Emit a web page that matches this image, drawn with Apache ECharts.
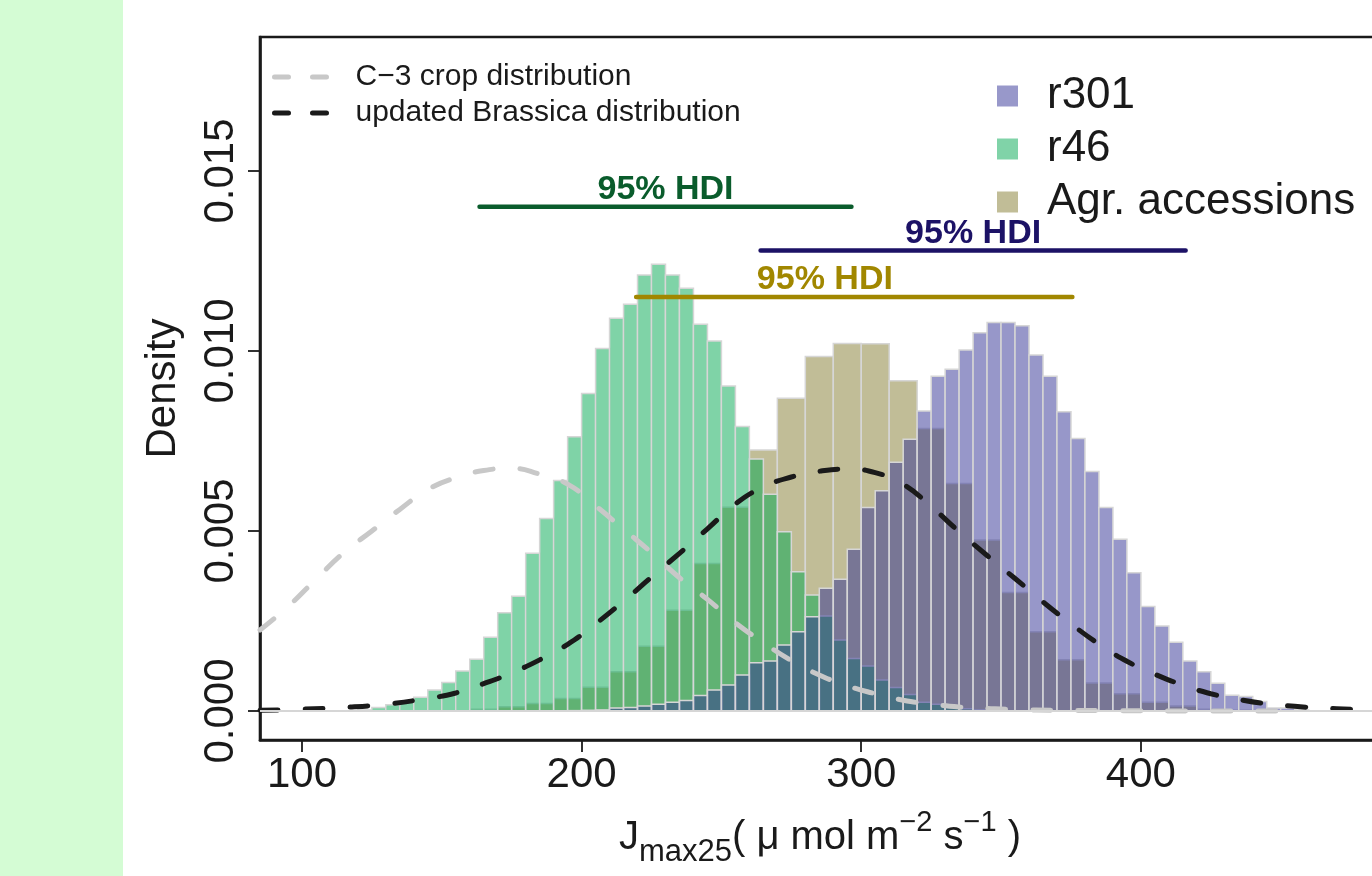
<!DOCTYPE html>
<html>
<head>
<meta charset="utf-8">
<script src="https://cdn.jsdelivr.net/npm/echarts@6/dist/echarts.min.js"></script>
<style>
html, body { margin: 0; padding: 0; background: #fff; }
#main { width: 1372px; height: 876px; }
</style>
</head>
<body>
<div id="main"></div>
<script>
// histograms: first bin start, bin width, densities per bin
var r46Start = 120, r46Bin = 5;
var r46Density = [0.00003, 0.0001, 0.00017, 0.00026, 0.00038, 0.00058, 0.00079, 0.00111, 0.00144, 0.00205,
    0.00273, 0.00319, 0.00438, 0.00535, 0.0064, 0.00762, 0.00882, 0.01007, 0.01091, 0.0113,
    0.01211, 0.01241, 0.01211, 0.01174, 0.01074, 0.01028, 0.00903, 0.0079, 0.0070, 0.00602,
    0.00498, 0.00387, 0.00322, 0.00264, 0.00197, 0.00146, 0.00125, 0.00086, 0.00065, 0.00046,
    0.00024, 0.00019, 0.00013, 0.00006, 0.00003];

var r301Start = 195, r301Bin = 5;
var r301Density = [0.00001, 0.00002, 0.00003, 0.00008, 0.0001, 0.00014, 0.00019, 0.00024, 0.00029, 0.00043,
    0.00058, 0.00072, 0.001, 0.00134, 0.00139, 0.00183, 0.0022, 0.00262, 0.00341, 0.00366,
    0.00449, 0.00565, 0.00612, 0.00691, 0.00755, 0.00833, 0.0093, 0.00949, 0.01003, 0.01051,
    0.01079, 0.01079, 0.0107, 0.00989, 0.0093, 0.00831, 0.00757, 0.00665, 0.00565, 0.00477,
    0.00384, 0.0029, 0.00236, 0.00191, 0.00139, 0.00109, 0.00077, 0.00044, 0.0004, 0.00026,
    0.00008, 0.00008, 0.00003];

var agrStart = 160, agrBin = 10;
var agrDensity = [0.00005, 0.00012, 0.00021, 0.00035, 0.00066, 0.00109, 0.0018, 0.0028, 0.0041, 0.00566,
    0.00725, 0.00869, 0.00985, 0.01021, 0.0102, 0.00917, 0.00785, 0.00632, 0.00475, 0.00329,
    0.0022, 0.00142, 0.00078, 0.00048, 0.00024, 0.00014, 0.00005, 0.00002];

// prior curves
var c3X = [85, 95, 105, 115, 125, 135, 145, 155, 165, 175, 185, 195, 205, 215, 225, 235, 245, 255, 265,
    275, 285, 295, 305, 315, 325, 335, 345, 355, 370, 390, 420, 450];
var c3Y = [0.00225, 0.0029, 0.00366, 0.0044, 0.005, 0.0056, 0.00615, 0.00648, 0.00668, 0.00674, 0.00658,
    0.0063, 0.0057, 0.00505, 0.0044, 0.0037, 0.0031, 0.00245, 0.0019, 0.0014, 0.001, 0.0007, 0.00048,
    0.0003, 0.00019, 0.00011, 0.00007, 0.00004, 0.00002, 0.00001, 0, 0];

var brX = [85, 100, 115, 130, 145, 155, 165, 175, 185, 195, 205, 215, 225, 235, 245, 255, 265, 275, 285,
    295, 305, 315, 325, 335, 345, 355, 365, 375, 385, 395, 405, 415, 425, 435, 445, 455, 465, 475, 485];
var brY = [0.00002, 0.00005, 0.0001, 0.00019, 0.00035, 0.0005, 0.00076, 0.00106, 0.00142, 0.00185,
    0.00242, 0.00305, 0.00372, 0.00438, 0.00506, 0.00575, 0.00622, 0.0065, 0.00666, 0.00672, 0.00662,
    0.0063, 0.00568, 0.00498, 0.00432, 0.00368, 0.00303, 0.00242, 0.00186, 0.00138, 0.00102, 0.00072,
    0.00048, 0.00032, 0.0002, 0.00013, 0.00008, 0.00005, 0.00003];

// 95% HDI bars: r46, r301, Agr
var hdiLow = [163.5, 264, 219.5];
var hdiHigh = [296.5, 416, 375.5];
var hdiHeight = [0.01401, 0.01279, 0.0115];
var hdiLabelX = [230, 340, 287];
var hdiColor = ['#0a5c2c', '#1c1266', '#a18700'];

var xTicks = [100, 200, 300, 400, 500];
var yTicks = [0, 0.005, 0.010, 0.015];

var FONT = 'Liberation Sans';
var INK = '#1a1a1a';

function binData(start, width, dens) {
    var out = [];
    for (var i = 0; i < dens.length; i++) {
        out.push([start + i * width, dens[i]]);
    }
    return out;
}

function pairs(xs, ys) {
    var out = [];
    for (var i = 0; i < xs.length; i++) out.push([xs[i], ys[i]]);
    return out;
}

function histItem(fill, binWidth) {
    return function (params, api) {
        var x0 = api.value(0);
        var top = api.coord([x0, api.value(1)]);
        var base = api.coord([x0 + binWidth, 0]);
        return {
            type: 'rect',
            shape: { x: top[0], y: top[1], width: base[0] - top[0], height: base[1] - top[1] },
            style: { fill: fill, stroke: '#d6d6d6', lineWidth: 1.5 }
        };
    };
}

function hdiSeries(i) {
    return {
        name: 'hdi' + i,
        type: 'line',
        symbol: 'circle',
        symbolSize: 0.1,
        showSymbol: true,
        lineStyle: { color: hdiColor[i], width: 4.5, cap: 'round' },
        itemStyle: { color: hdiColor[i] },
        label: { show: false },
        data: [
            [hdiLow[i], hdiHeight[i]],
            {
                value: [hdiLabelX[i], hdiHeight[i]],
                label: {
                    show: true, position: 'top', distance: 0,
                    formatter: '95% HDI', fontFamily: FONT, fontWeight: 'bold',
                    fontSize: 34, color: hdiColor[i]
                }
            },
            [hdiHigh[i], hdiHeight[i]]
        ],
        z: 5,
        silent: true
    };
}

var chart = echarts.init(document.getElementById('main'));

var option = {
    animation: false,
    backgroundColor: '#fff',
    textStyle: { fontFamily: FONT },
    graphic: [{
        type: 'rect', left: 0, top: 0, z: -10,
        shape: { width: 123, height: 876 },
        style: { fill: '#d4fcd4' }
    }],
    grid: {
        left: 260, top: 37, width: 1120, height: 703,
        outerBoundsMode: 'none',
        containLabel: false,
        show: true, borderColor: INK, borderWidth: 2.6, backgroundColor: 'transparent'
    },
    legend: [{
        orient: 'vertical', left: 267, top: 57,
        itemWidth: 56, itemHeight: 14, itemGap: 6,
        selectedMode: false,
        itemStyle: { opacity: 0 },
        lineStyle: { width: 5, type: [14, 24], cap: 'round' },
        textStyle: { fontFamily: FONT, fontSize: 30, lineHeight: 30, color: INK, padding: [0, 0, 0, 20] },
        data: ['C\u22123 crop distribution', 'updated Brassica distribution']
    }, {
        orient: 'vertical', left: 992, top: 68,
        icon: 'rect', itemWidth: 21, itemHeight: 21, itemGap: 7,
        selectedMode: false,
        textStyle: { fontFamily: FONT, fontSize: 44, lineHeight: 46, color: INK, padding: [0, 0, 0, 24] },
        data: [
            { name: 'r301', itemStyle: { color: '#9898ca', borderWidth: 0 } },
            { name: 'r46', itemStyle: { color: '#80d3a8', borderWidth: 0 } },
            { name: 'Agr. accessions', itemStyle: { color: '#c1bd97', borderWidth: 0 } }
        ]
    }],
    xAxis: {
        type: 'value', min: 85, max: 485.5,
        position: 'bottom',
        axisLine: { show: true, onZero: false, lineStyle: { color: INK, width: 2.6 } },
        splitLine: { show: false },
        axisTick: { show: true, inside: false, length: 12, customValues: xTicks, lineStyle: { color: INK, width: 1.8 } },
        axisLabel: { customValues: xTicks, fontSize: 42, color: INK, margin: 14, fontFamily: FONT },
        name: '{a|J}{sub|max25}{a|( \u03bc mol m}{sup|\u22122}{a| s}{sup|\u22121}{a| )}',
        nameLocation: 'middle',
        nameGap: 68,
        nameTextStyle: {
            rich: {
                a: { fontFamily: FONT, fontSize: 40, lineHeight: 60, color: INK, verticalAlign: 'middle' },
                sub: { fontFamily: FONT, fontSize: 31, lineHeight: 48, color: INK, verticalAlign: 'bottom' },
                sup: { fontFamily: FONT, fontSize: 29, lineHeight: 32, color: INK, verticalAlign: 'top' }
            }
        }
    },
    yAxis: {
        type: 'value', min: -0.000806, max: 0.018722,
        axisLine: { show: true, onZero: false, lineStyle: { color: INK, width: 2.6 } },
        splitLine: { show: false },
        axisTick: { show: true, inside: false, length: 12, customValues: yTicks, lineStyle: { color: INK, width: 1.8 } },
        axisLabel: {
            customValues: yTicks, rotate: 90, fontSize: 42, color: INK, margin: 18, fontFamily: FONT,
            formatter: function (v) { return v.toFixed(3); }
        },
        name: 'Density',
        nameLocation: 'middle',
        nameRotate: 90,
        nameGap: 76,
        nameTextStyle: { fontFamily: FONT, fontSize: 42, color: INK }
    },
    series: [{
        name: 'Agr. accessions',
        type: 'custom',
        renderItem: histItem('rgba(131,123,47,0.5)', agrBin),
        encode: { x: 0, y: 1 },
        itemStyle: { color: '#c1bd97' },
        data: binData(agrStart, agrBin, agrDensity),
        markLine: {
            silent: true, symbol: 'none', label: { show: false },
            lineStyle: { color: '#d6d6d6', width: 2, type: 'solid' },
            data: [{ yAxis: 0 }]
        },
        z: 2
    }, {
        name: 'r46',
        type: 'custom',
        renderItem: histItem('rgba(0,167,79,0.5)', r46Bin),
        encode: { x: 0, y: 1 },
        itemStyle: { color: '#80d3a8' },
        data: binData(r46Start, r46Bin, r46Density),
        z: 2
    }, {
        name: 'r301',
        type: 'custom',
        renderItem: histItem('rgba(47,47,147,0.5)', r301Bin),
        encode: { x: 0, y: 1 },
        itemStyle: { color: '#9898ca' },
        data: binData(r301Start, r301Bin, r301Density),
        z: 2
    }, {
        name: 'C\u22123 crop distribution',
        type: 'line',
        smooth: true,
        symbol: 'none',
        lineStyle: { color: '#c8c8c8', width: 5, type: [18, 27], cap: 'round' },
        itemStyle: { color: '#c8c8c8' },
        data: pairs(c3X, c3Y),
        z: 3,
        silent: true
    }, {
        name: 'updated Brassica distribution',
        type: 'line',
        smooth: true,
        symbol: 'none',
        lineStyle: { color: INK, width: 5, type: [18, 27], cap: 'round' },
        itemStyle: { color: INK },
        data: pairs(brX, brY),
        z: 4,
        silent: true
    }, hdiSeries(0), hdiSeries(1), hdiSeries(2)]
};

chart.setOption(option);
</script>
</body>
</html>
